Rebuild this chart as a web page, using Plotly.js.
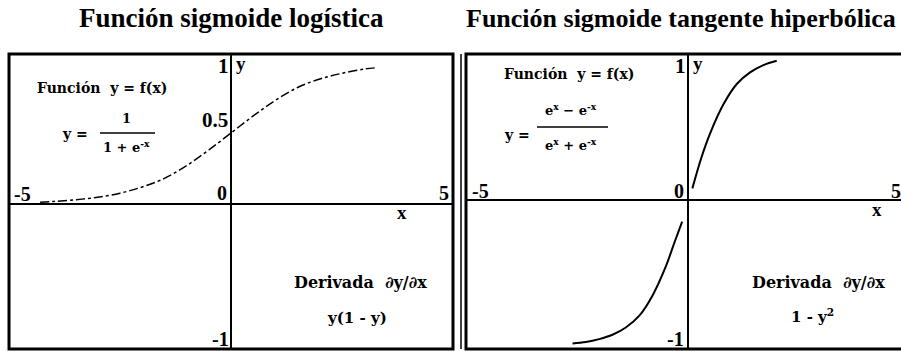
<!DOCTYPE html>
<html><head><meta charset="utf-8">
<script src="https://cdn.plot.ly/plotly-3.0.1.min.js"></script>
<style>html,body{margin:0;padding:0;background:#fff;}</style>
</head><body>
<div id="chart" style="width:901px;height:351px;"></div>
<script>
// Data
const logX = [-4.3, -4.0, -3.5, -3.0, -2.5, -2.0, -1.5, -1.0, -0.5, 0.0, 0.5, 1.0, 1.5, 2.0, 2.5, 3.0, 3.3];
const logY = [0.013, 0.018, 0.03, 0.047, 0.076, 0.12, 0.18, 0.27, 0.38, 0.5, 0.62, 0.73, 0.82, 0.88, 0.92, 0.95, 0.96];
const tanhLowX = [-2.6, -2.3, -2.0, -1.7, -1.4, -1.1, -0.8, -0.5, -0.3, -0.13];
const tanhLowY = [-0.99, -0.98, -0.96, -0.93, -0.88, -0.80, -0.66, -0.46, -0.29, -0.15];
const tanhUpX = [0.1, 0.3, 0.5, 0.8, 1.1, 1.4, 1.7, 2.0];
const tanhUpY = [0.08, 0.29, 0.46, 0.66, 0.80, 0.88, 0.93, 0.96];

const W = 901, H = 351;
const px = x => x / W, py = y => 1 - y / H;
const SERIF = 'Liberation Serif, Times New Roman, serif';
const WIDE = 'DejaVu Serif, serif';

const ax = (dom, rng) => ({domain: dom, range: rng, showgrid: false, showticklabels: false,
  ticks: '', zeroline: true, zerolinecolor: '#000', zerolinewidth: 2, showline: false, fixedrange: true});

const traces = [
  {x: logX, y: logY, xaxis: 'x', yaxis: 'y', mode: 'lines', line: {color: '#000', width: 1.5, dash: 'dashdot', shape: 'spline'}, hoverinfo: 'skip'},
  {x: tanhLowX, y: tanhLowY, xaxis: 'x2', yaxis: 'y2', mode: 'lines', line: {color: '#000', width: 2, shape: 'spline'}, hoverinfo: 'skip'},
  {x: tanhUpX, y: tanhUpY, xaxis: 'x2', yaxis: 'y2', mode: 'lines', line: {color: '#000', width: 2, shape: 'spline'}, hoverinfo: 'skip'}
];

function txt(t, x, y, size, fam) {
  return {text: t, x: px(x), y: py(y), xref: 'paper', yref: 'paper', showarrow: false,
    xanchor: 'center', yanchor: 'middle', font: {family: fam || SERIF, size: size, color: '#000', weight: 'bold'}};
}

const annotations = [
  txt('Función sigmoide logística', 232, 18, 27),
  txt('Función sigmoide tangente hiperbólica', 681, 18, 26),
  // left panel
  txt('Función  y = f(x)', 102, 88, 14, WIDE),
  txt('y =', 75, 134, 14, WIDE),
  txt('1', 127, 118, 13, WIDE),
  txt('1 + e<sup>-x</sup>', 127, 146, 13, WIDE),
  txt('1', 223, 66, 21),
  txt('y', 241, 63, 19),
  txt('0.5', 215, 120, 21),
  txt('-5', 22, 194, 20),
  txt('0', 222, 193, 20),
  txt('5', 444, 193, 20),
  txt('x', 402, 213, 19),
  txt('Derivada  ∂y/∂x', 360, 282, 16, WIDE),
  txt('y(1 - y)', 357, 318, 15, WIDE),
  txt('-1', 220, 339, 20),
  // right panel
  txt('Función  y = f(x)', 569, 74, 14, WIDE),
  txt('y =', 517, 135, 14, WIDE),
  txt('e<sup>x</sup> − e<sup>-x</sup>', 571, 109, 13, WIDE),
  txt('e<sup>x</sup> + e<sup>-x</sup>', 571, 144, 13, WIDE),
  txt('1', 680, 66, 21),
  txt('y', 698, 63, 19),
  txt('-5', 480, 191, 20),
  txt('0', 679, 191, 20),
  txt('5', 896, 191, 20),
  txt('x', 877, 209, 19),
  txt('Derivada  ∂y/∂x', 818, 282, 16, WIDE),
  txt('1 - y<sup>2</sup>', 812, 316, 15, WIDE),
  txt('-1', 675, 339, 20)
];

const shapes = [
  {type: 'rect', xref: 'paper', yref: 'paper', x0: px(9), x1: px(453), y0: py(349), y1: py(54), line: {color: '#000', width: 3}},
  {type: 'rect', xref: 'paper', yref: 'paper', x0: px(466), x1: px(905), y0: py(349), y1: py(54), line: {color: '#000', width: 3}},
  {type: 'line', xref: 'paper', yref: 'paper', x0: px(461), x1: px(461), y0: py(349), y1: py(54), line: {color: '#000', width: 1.5}},
  {type: 'line', xref: 'paper', yref: 'paper', x0: px(100), x1: px(155), y0: py(133), y1: py(133), line: {color: '#000', width: 1.5}},
  {type: 'line', xref: 'paper', yref: 'paper', x0: px(537), x1: px(608), y0: py(127), y1: py(127), line: {color: '#000', width: 1.5}}
];

const layout = {
  width: W, height: H, margin: {l: 0, r: 0, t: 0, b: 0},
  paper_bgcolor: '#fff', plot_bgcolor: 'rgba(0,0,0,0)', showlegend: false,
  xaxis: Object.assign(ax([px(9), px(453)], [-5, 5]), {anchor: 'y'}),
  yaxis: Object.assign(ax([1 - 349 / H, 1 - 54 / H], [-1.021, 1.056]), {anchor: 'x'}),
  xaxis2: Object.assign(ax([px(466), 1], [-5, 4.8]), {anchor: 'y2'}),
  yaxis2: Object.assign(ax([1 - 349 / H, 1 - 54 / H], [-1.028, 1.007]), {anchor: 'x2'}),
  annotations: annotations, shapes: shapes
};
Plotly.newPlot('chart', traces, layout, {staticPlot: true, displayModeBar: false});
</script>
</body></html>
